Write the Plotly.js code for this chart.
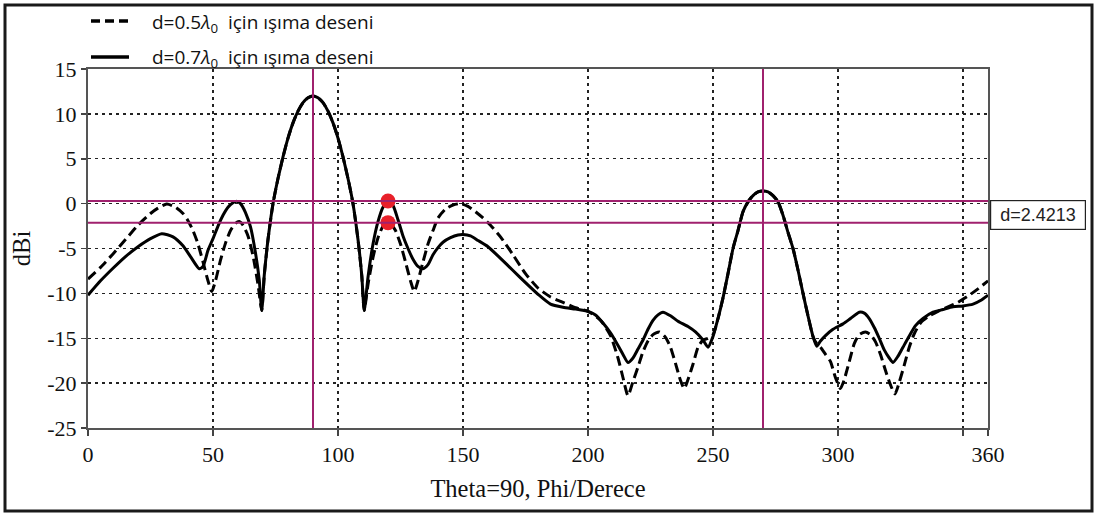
<!DOCTYPE html>
<html>
<head>
<meta charset="utf-8">
<script src="https://cdn.plot.ly/plotly-3.0.1.min.js"></script>
<style>
  html, body { margin: 0; padding: 0; background: #ffffff; }
  #chart { width: 1097px; height: 514px; }
</style>
</head>
<body>
<div id="chart"></div>
<script>
// ---- data ----
const seriesNames = ["d=0.5<i>λ</i><sub>0</sub>  için ışıma deseni", "d=0.7<i>λ</i><sub>0</sub>  için ışıma deseni"];

const theta05 = [0,5,10,15,20,25,28,31.5,35,38,40,42,44,46,48,49.5,51,53,55,57,59,60.5,62,64,66,68,69.5,
  70.5,72,74,76,78,80,82,84,86,88,90,92,94,96,98,100,102,104,106,108,109.5,110.5,
  112,114,116,118,119.5,121,123,125,127,129,130.5,132,134,136,138,140,143,146,149,152,155,158,161,165,170,175,180,
  185,190,195,200,205,209,212,214,216,218,220,222,224,226,228.5,231,233,235,237,238.5,240,242,244,246,248,250,
  252,254,256,258,260,262,264,266,268,270,272,274,276,278,280,282,284,286,288,290,
  291.5,293,295,297,299,301,302.5,304.5,306.5,308.5,311,313,315,317,319,321,322.8,324.5,326.5,328.5,330.5,333,336,340,344,348,352,356,360];
const dbi05 = [-8.4,-7.1,-5.6,-4.0,-2.4,-1.1,-0.5,-0.05,-0.4,-1.1,-1.9,-3.0,-4.5,-6.5,-8.6,-9.8,-8.6,-6.3,-4.4,-3.0,-2.2,-2.0,-2.4,-3.6,-5.8,-9.0,-11.9,
  -8.0,-4.0,0.0,2.8,5.2,7.3,9.0,10.3,11.25,11.8,12.0,11.8,11.25,10.3,9.0,7.3,5.2,2.8,0.0,-4.0,-8.0,-11.9,
  -9.0,-6.0,-3.8,-2.5,-2.1,-2.2,-3.0,-4.5,-6.5,-8.6,-9.8,-8.6,-6.5,-4.5,-3.0,-1.6,-0.6,-0.15,0.0,-0.3,-0.9,-1.6,-2.4,-3.7,-5.7,-7.8,-9.4,
  -10.4,-11.0,-11.6,-12.0,-13.0,-14.7,-17.2,-19.4,-21.4,-19.8,-18.2,-16.5,-15.3,-14.6,-14.3,-14.9,-16.0,-17.8,-19.7,-20.6,-19.6,-17.9,-16.0,-15.2,-15.0,-14.6,
  -12.8,-10.5,-7.8,-5.0,-3.0,-0.9,0.2,0.9,1.3,1.4,1.3,0.9,0.2,-1.3,-3.2,-5.0,-7.4,-10.0,-12.5,-14.8,
  -15.6,-16.0,-16.8,-17.6,-19.4,-20.6,-19.6,-17.6,-15.6,-14.6,-14.3,-14.6,-15.4,-16.8,-18.6,-20.2,-21.2,-19.9,-18.0,-16.0,-14.5,-13.3,-12.6,-12.0,-11.5,-11.0,-10.3,-9.5,-8.6];

const theta07 = [0,5,10,15,20,25,29.5,34,38,41,44.5,46,48,50,52,54,56,58,59.5,61,63,65,67,68.5,69.5,
  70.5,72,74,76,78,80,82,84,86,88,90,92,94,96,98,100,102,104,106,108,109.5,110.5,
  112,114,116,118,120,122,124,126,128,130,132,134,136,138,140,142,145,148,150,153,156,160,165,170,175,180,
  185,190,195,200,203,206,209,212,214,216,218,220,222,224,226,228,230,233,236,240,243,246,248,250,
  252,254,256,258,260,262,264,266,268,270,272,274,276,278,280,282,284,286,288,290,
  291.5,293,295,298,302,305,308.5,310.5,312.5,314.5,316.5,318.5,320.5,322,324,326,328,331,334,338,342,346,350,354,357,360];
const dbi07 = [-10.2,-8.6,-7.2,-5.9,-4.8,-3.9,-3.35,-3.7,-4.7,-5.9,-7.25,-7.0,-5.2,-3.9,-2.5,-1.3,-0.4,0.1,0.25,0.0,-1.0,-2.6,-5.5,-8.5,-11.9,
  -8.0,-4.0,0.0,2.8,5.2,7.3,9.0,10.3,11.25,11.8,12.0,11.8,11.25,10.3,9.0,7.3,5.2,2.8,0.0,-4.0,-8.0,-11.9,
  -8.2,-4.5,-2.0,-0.4,0.3,-0.2,-1.8,-3.6,-5.0,-6.2,-7.0,-7.25,-6.8,-5.7,-4.9,-4.3,-3.8,-3.5,-3.45,-3.6,-4.1,-4.8,-6.1,-7.45,-8.8,-10.1,
  -11.2,-11.55,-11.75,-12.0,-12.4,-13.3,-14.4,-15.8,-16.8,-17.7,-17.2,-16.2,-15.2,-14.0,-13.0,-12.4,-12.1,-12.5,-13.1,-13.7,-14.3,-15.2,-16.0,-14.8,
  -12.8,-10.5,-7.8,-5.0,-3.0,-0.9,0.2,0.9,1.3,1.4,1.3,0.9,0.2,-1.3,-3.2,-5.0,-7.4,-10.0,-12.5,-14.8,
  -15.9,-15.3,-14.7,-14.0,-13.4,-12.8,-12.1,-12.2,-12.8,-13.8,-15.0,-16.3,-17.2,-17.7,-17.0,-16.0,-15.0,-13.6,-12.8,-12.1,-11.8,-11.5,-11.4,-11.2,-10.8,-10.2];

// cursor markers
const cursorTheta = [90, 270];
const cursorLevels = [0.3, -2.12];
const markerTheta = [120, 120];
const markerLevels = [0.3, -2.12];
const deltaLabel = "d=2.4213";

const xTickVals = [0, 50, 100, 150, 200, 250, 300, 350, 360];
const xTickText = ["0", "50", "100", "150", "200", "250", "300", "", "360"];
const yTickVals = [-25, -20, -15, -10, -5, 0, 5, 10, 15];
const yTickText = ["-25", "-20", "-15", "-10", "-5", "0", "5", "10", "15"];

// ---- layout helpers (pixel geometry of plot area) ----
const W = 1097, H = 514;
const L = 88, R = 988, T = 69, B = 428;
const px = v => (v - L) / (R - L);
const py = v => (B - v) / (B - T);

const MAG = "#a0216e";
const SERIF = "Liberation Serif";
const SANS = "Open Sans";

const traces = [
  { x: theta05, y: dbi05, name: "d=0.5", type: "scatter", mode: "lines",
    line: { color: "#000", width: 3, dash: "10px,5px", shape: "spline", smoothing: 0.6 }, showlegend: false, hoverinfo: "skip" },
  { x: theta07, y: dbi07, name: "d=0.7", type: "scatter", mode: "lines",
    line: { color: "#000", width: 3, shape: "spline", smoothing: 0.6 }, showlegend: false, hoverinfo: "skip" },
  { x: markerTheta, y: markerLevels, type: "scatter", mode: "markers",
    marker: { color: "#e8202a", size: 15 }, showlegend: false, hoverinfo: "skip" }
];

const shapes = [];
cursorTheta.forEach(t => shapes.push({ type: "line", xref: "x", yref: "paper", x0: t, x1: t, y0: 0, y1: 1, line: { color: MAG, width: 2 }, layer: "above" }));
cursorLevels.forEach(v => shapes.push({ type: "line", xref: "paper", yref: "y", x0: 0, x1: 1, y0: v, y1: v, line: { color: MAG, width: 2 }, layer: "above" }));
// legend samples
shapes.push({ type: "line", xref: "paper", yref: "paper", x0: px(91), x1: px(129), y0: py(21), y1: py(21), line: { color: "#000", width: 3.5, dash: "9px,5px" } });
shapes.push({ type: "line", xref: "paper", yref: "paper", x0: px(91), x1: px(129), y0: py(57), y1: py(57), line: { color: "#000", width: 3.5 } });
// outer frame
shapes.push({ type: "rect", xref: "paper", yref: "paper", x0: px(5), x1: px(1092), y0: py(511), y1: py(5), line: { color: "#1a1a1a", width: 3 } });

const annotations = [
  { xref: "paper", yref: "paper", x: px(150), y: py(23), xanchor: "left", yanchor: "middle", showarrow: false,
    text: seriesNames[0], font: { family: SANS, size: 19, color: "#111" } },
  { xref: "paper", yref: "paper", x: px(150), y: py(58), xanchor: "left", yanchor: "middle", showarrow: false,
    text: seriesNames[1], font: { family: SANS, size: 19, color: "#111" } },
  { xref: "paper", yref: "y", x: px(990), y: (cursorLevels[0] + cursorLevels[1]) / 2 - 0.4, xanchor: "left", yanchor: "middle", showarrow: false,
    text: "&nbsp;" + deltaLabel + "&nbsp;", font: { family: "Liberation Sans", size: 18, color: "#222" },
    bordercolor: "#222", borderwidth: 1.2, borderpad: 4, bgcolor: "#fff" }
];

const layout = {
  width: W, height: H,
  margin: { l: L, r: W - R, t: T, b: H - B, pad: 0 },
  paper_bgcolor: "#fff", plot_bgcolor: "#fff",
  showlegend: false,
  font: { family: SERIF, color: "#111" },
  xaxis: {
    range: [0, 360], autorange: false,
    tickmode: "array", tickvals: xTickVals, ticktext: xTickText,
    ticks: "outside", ticklen: 6, tickwidth: 1.5, tickcolor: "#444",
    showgrid: true, gridcolor: "#222", gridwidth: 1.3, griddash: "3px,4px",
    showline: true, linecolor: "#555", linewidth: 2, mirror: true,
    zeroline: false,
    tickfont: { family: SERIF, size: 22, color: "#111" },
    ticklabelstandoff: 0,
    title: { text: "Theta=90, Phi/Derece", standoff: 13, font: { family: SERIF, size: 24.5, color: "#111" } },
    automargin: false
  },
  yaxis: {
    range: [-25, 15], autorange: false,
    tickmode: "array", tickvals: yTickVals, ticktext: yTickText,
    ticks: "outside", ticklen: 5, tickwidth: 1.5, tickcolor: "#444",
    showgrid: true, gridcolor: "#222", gridwidth: 1.3, griddash: "3px,4px",
    showline: true, linecolor: "#555", linewidth: 2, mirror: true,
    zeroline: false,
    tickfont: { family: SERIF, size: 22, color: "#111" },
    title: { text: "dBi", standoff: 10, font: { family: SERIF, size: 24.5, color: "#111" } },
    automargin: false
  },
  shapes: shapes,
  annotations: annotations
};

Plotly.newPlot("chart", traces, layout, { displayModeBar: false, staticPlot: true });
</script>
</body>
</html>
